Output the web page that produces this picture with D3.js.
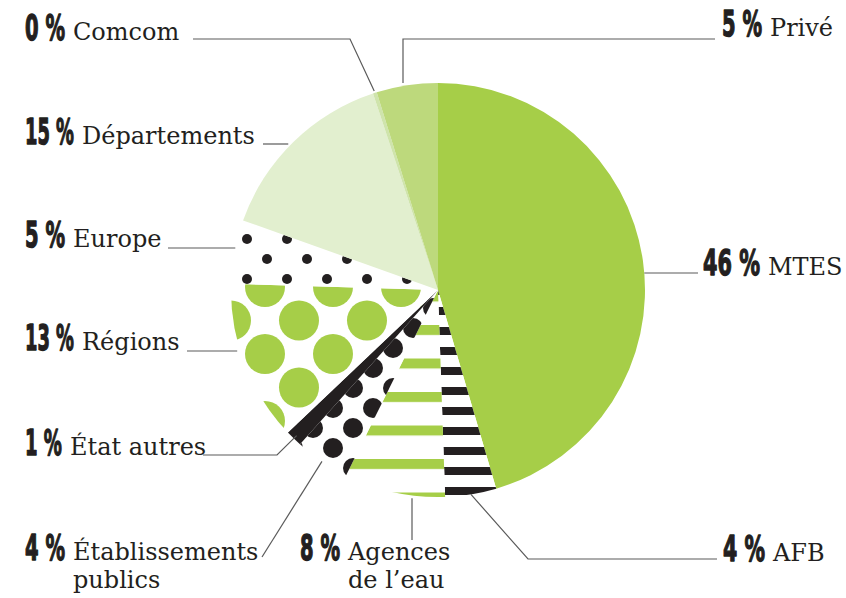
<!DOCTYPE html>
<html><head><meta charset="utf-8">
<script src="https://cdn.jsdelivr.net/npm/d3@7/dist/d3.min.js"></script>
<style>html,body{margin:0;padding:0;background:#fff;}svg{display:block;}</style>
</head><body>
<svg id="chart" width="846" height="598"></svg>
<script>
// ---- data ----
const categories = ["MTES","AFB","Agences de l’eau","Établissements publics","État autres","Régions","Europe","Départements","Comcom","Privé"];
// slice sizes (labels show rounded shares)
const values = [45.6, 4, 7.9, 4.3, 1.3, 12.6, 5, 14.5, 0.3, 4.8];
const pctLabels = ["46 %","4 %","8 %","4 %","1 %","13 %","5 %","15 %","0 %","5 %"];
const nameLines = [["MTES"],["AFB"],["Agences","de l’eau"],["Établissements","publics"],["État autres"],["Régions"],["Europe"],["Départements"],["Comcom"],["Privé"]];
const fills = ["#a6ce48","url(#pAFB)","url(#pAgences)","url(#pEtab)","#231f20","url(#pRegions)","url(#pEurope)","#e2efcf","#cfe4ac","#bdd97c"];

// ---- layout ----
const W = 846, H = 598, cx = 438, cy = 290, R = 207;
const GREEN = "#a6ce48", BLACK = "#231f20", LINE = "#5a5a5a";
// label placement: pct x, name x, baseline y
const labelPos = [
  {x:703, nx:768, y:275}, {x:723, nx:773, y:561}, {x:300, nx:348, y:560},
  {x:25, nx:73, y:560}, {x:25, nx:70, y:455}, {x:25, nx:82, y:350},
  {x:25, nx:73, y:247}, {x:25, nx:82, y:144}, {x:25, nx:73, y:40}, {x:722, nx:770, y:36}
];

const svg = d3.select("#chart");
const defs = svg.append("defs");

function pat(id, x, y, w, h){
  return defs.append("pattern").attr("id", id).attr("patternUnits","userSpaceOnUse")
    .attr("x", x).attr("y", y).attr("width", w).attr("height", h);
}
{ // Régions: big green circles
  const p = pat("pRegions", 265-cx, 287-cy, 68, 67);
  p.append("rect").attr("width",68).attr("height",67).attr("fill","#fff");
  [[0,0],[68,0],[0,67],[68,67],[34,33.5]].forEach(([a,b]) =>
    p.append("circle").attr("cx",a).attr("cy",b).attr("r",20).attr("fill",GREEN));
}
{ // Europe: small black dots
  const p = pat("pEurope", 247-cx, 239-cy, 40, 40);
  p.append("rect").attr("width",40).attr("height",40).attr("fill","#fff");
  [[0,0],[40,0],[0,40],[40,40],[20,20]].forEach(([a,b]) =>
    p.append("circle").attr("cx",a).attr("cy",b).attr("r",5).attr("fill",BLACK));
}
{ // Établissements: big black dots
  const p = pat("pEtab", 353-cx, 388-cy, 40, 40);
  p.append("rect").attr("width",40).attr("height",40).attr("fill","#fff");
  [[0,0],[40,0],[0,40],[40,40],[20,20]].forEach(([a,b]) =>
    p.append("circle").attr("cx",a).attr("cy",b).attr("r",10).attr("fill",BLACK));
}
{ // Agences: green horizontal stripes
  const p = pat("pAgences", 0, 325-cy, 40, 33.5);
  p.append("rect").attr("width",40).attr("height",33.5).attr("fill","#fff");
  p.append("rect").attr("width",40).attr("height",10).attr("fill",GREEN);
}
{ // AFB: black horizontal stripes
  const p = pat("pAFB", 0, 427-cy, 40, 20);
  p.append("rect").attr("width",40).attr("height",20).attr("fill","#fff");
  p.append("rect").attr("width",40).attr("height",8).attr("fill",BLACK);
}

const pie = d3.pie().sort(null).value(d => d);
const arcs = pie(values);
const arc = d3.arc().innerRadius(0).outerRadius(R);

const g = svg.append("g").attr("transform", `translate(${cx},${cy})`);
g.selectAll("path").data(arcs).join("path")
  .attr("d", arc)
  .attr("fill", (d,i) => fills[i]);

// helpers
const pt = (ang, r) => [cx + r*Math.sin(ang), cy - r*Math.cos(ang)];
const mid = i => (arcs[i].startAngle + arcs[i].endAngle)/2;
const edgeXAtY = (y, side) => cx + side*Math.sqrt(R*R - (y-cy)*(y-cy));
const edgeYAtX = (x, side) => cy + side*Math.sqrt(R*R - (x-cx)*(x-cx));

// leader lines
const leaders = [
  [[edgeXAtY(273,1), 273],[698,273]],
  [pt(mid(1), R), [528,559], [717,559]],
  [[412, edgeYAtX(412,1)+3], [412,540]],
  [pt(mid(3), R), [262,557]],
  [pt(mid(4), R-4), [277,455], [203,455]],
  [[edgeXAtY(351,-1)-3, 351], [187,351]],
  [[edgeXAtY(248,-1), 248], [168,248]],
  [[edgeXAtY(144,-1)-3, 144], [263,144]],
  [pt(mid(8), R+2), [350,39], [193,39]],
  [[403, edgeYAtX(403,-1)-3], [403,39], [715,39]]
];
const line = d3.line();
svg.append("g").selectAll("path").data(leaders).join("path")
  .attr("d", d => line(d))
  .attr("fill","none").attr("stroke",LINE).attr("stroke-width",1.2);

// labels
const lab = svg.append("g");
categories.forEach((c, i) => {
  const p = labelPos[i];
  const pg = lab.append("g");
  const t = pg.append("text").text(pctLabels[i])
    .attr("font-family","DejaVu Sans").attr("font-weight","bold")
    .attr("font-size",36).attr("fill",BLACK)
    .attr("stroke",BLACK).attr("stroke-width",1.4).attr("stroke-linejoin","round");
  const natural = t.node().getComputedTextLength();
  const sx = Math.min(0.58, (p.nx - 8 - p.x) / natural);
  pg.attr("transform", `translate(${p.x},${p.y}) scale(${sx},1)`);
  nameLines[i].forEach((s, k) => {
    lab.append("text").text(s).attr("x", p.nx).attr("y", p.y + k*28)
      .attr("font-family","DejaVu Serif").attr("font-size",24).attr("fill",BLACK);
  });
});
</script>
</body></html>
